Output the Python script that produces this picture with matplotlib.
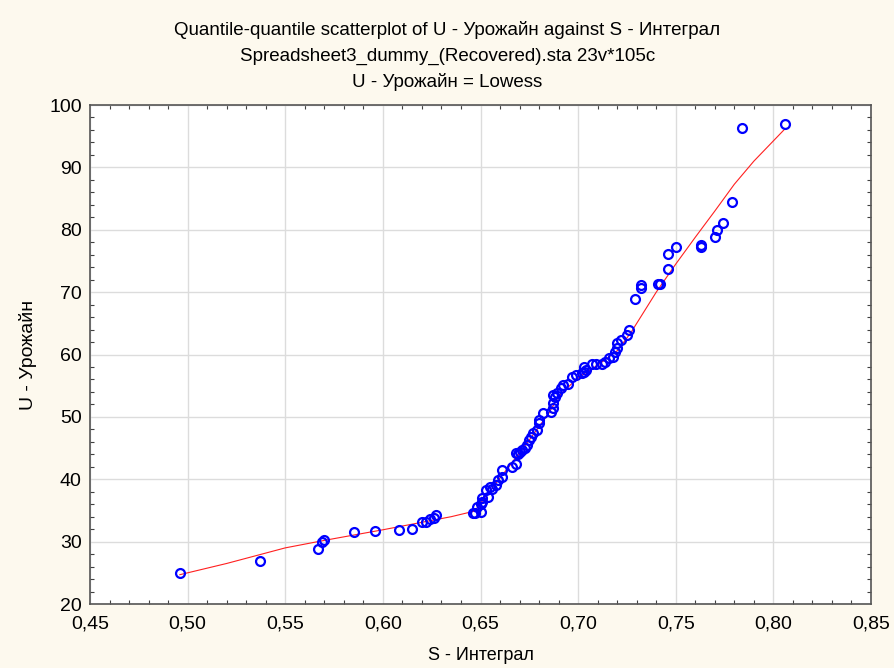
import matplotlib
matplotlib.use("Agg")
import matplotlib.pyplot as plt
import numpy as np
from matplotlib.ticker import MultipleLocator, FuncFormatter

plt.rcParams["font.family"] = ["Liberation Sans", "DejaVu Sans"]

# quantile pairs (S - Интеграл, U - Урожайн)
s_vals = [0.496, 0.537, 0.567, 0.569, 0.570, 0.585, 0.596, 0.608, 0.615,
          0.620, 0.622, 0.624, 0.626, 0.627, 0.646, 0.647, 0.648, 0.650,
          0.650, 0.651, 0.651, 0.653, 0.654, 0.655, 0.656, 0.658, 0.659,
          0.661, 0.661, 0.666, 0.668, 0.668, 0.669, 0.670, 0.671, 0.673,
          0.674, 0.675, 0.676, 0.677, 0.679, 0.680, 0.680, 0.682, 0.686,
          0.687, 0.687, 0.688, 0.687, 0.689, 0.691, 0.692, 0.695, 0.697,
          0.699, 0.702, 0.703, 0.704, 0.703, 0.707, 0.709, 0.712, 0.714,
          0.716, 0.718, 0.719, 0.720, 0.720, 0.722, 0.725, 0.726, 0.729,
          0.732, 0.732, 0.741, 0.742, 0.746, 0.746, 0.750, 0.763, 0.763,
          0.770, 0.771, 0.774, 0.779, 0.784, 0.806]
u_vals = [25.0, 26.9, 28.8, 30.0, 30.2, 31.5, 31.7, 31.9, 32.0,
          33.1, 33.2, 33.6, 33.8, 34.3, 34.6, 34.6, 35.6, 34.8,
          36.0, 36.4, 37.0, 38.3, 37.2, 38.8, 38.5, 39.1, 39.9,
          40.4, 41.5, 42.0, 42.4, 44.2, 44.0, 44.4, 44.7, 45.0,
          45.5, 46.3, 46.8, 47.4, 47.9, 49.0, 49.5, 50.6, 50.8,
          51.4, 52.2, 53.2, 53.5, 53.8, 54.6, 55.1, 55.3, 56.4,
          56.7, 57.0, 57.2, 57.5, 58.0, 58.5, 58.5, 58.5, 58.8,
          59.4, 59.6, 60.4, 61.0, 61.9, 62.3, 63.1, 63.9, 68.9,
          70.7, 71.1, 71.3, 71.3, 73.7, 76.1, 77.2, 77.5, 77.2,
          78.8, 80.0, 81.1, 84.5, 96.3, 97.0]

# Lowess curve
lowess_s = [0.496, 0.52, 0.55, 0.57, 0.60, 0.62, 0.635, 0.647, 0.655,
            0.665, 0.675, 0.685, 0.69, 0.70, 0.71, 0.72, 0.727, 0.74,
            0.75, 0.76, 0.77, 0.78, 0.79, 0.806]
lowess_u = [24.7, 26.5, 29.0, 30.2, 31.9, 33.1, 34.0, 34.9, 38.2,
            42.2, 46.3, 50.6, 53.3, 56.3, 58.3, 60.6, 63.5, 70.0,
            74.5, 78.8, 83.0, 87.3, 91.0, 96.2]

bg = "#fdf9ee"
fig = plt.figure(figsize=(8.95, 6.68), dpi=100, facecolor=bg)
ax = fig.add_axes([0.1006, 0.0958, 0.8726, 0.747])

ax.plot(lowess_s, lowess_u, color="#ff2020", lw=0.8, zorder=3)
ax.plot(s_vals, u_vals, linestyle="none", marker="o", ms=6.4,
        mfc="none", mec="#0000ff", mew=1.6, zorder=4)

ax.set_xlim(0.45, 0.85)
ax.set_ylim(20, 100)
ax.xaxis.set_major_locator(MultipleLocator(0.05))
ax.xaxis.set_minor_locator(MultipleLocator(0.01))
ax.yaxis.set_major_locator(MultipleLocator(10))
ax.yaxis.set_minor_locator(MultipleLocator(2))
ax.xaxis.set_major_formatter(FuncFormatter(lambda v, p: f"{v:.2f}".replace(".", ",")))
ax.yaxis.set_major_formatter(FuncFormatter(lambda v, p: f"{v:.0f}"))

ax.grid(True, which="major", color="#dcdcdc", lw=1.0, zorder=0)
ax.tick_params(which="both", direction="in", top=True, right=True,
               color="#404040", labelsize=14)
ax.tick_params(which="major", length=0, pad=8)
ax.tick_params(axis="y", which="major", pad=6)
ax.tick_params(which="minor", length=3, width=0.8)
for sp in ax.spines.values():
    sp.set_color("#555555")
    sp.set_linewidth(1.2)

ax.set_xlabel("S - Интеграл", fontsize=13, labelpad=11)
ax.set_ylabel("U - Урожайн", fontsize=14, labelpad=9)

fig.text(0.5, 0.955, "Quantile-quantile scatterplot of U - Урожайн against S - Интеграл",
         ha="center", va="center", fontsize=13.5)
fig.text(0.5, 0.916, "Spreadsheet3_dummy_(Recovered).sta 23v*105c",
         ha="center", va="center", fontsize=13.5)
fig.text(0.5, 0.877, "U - Урожайн = Lowess", ha="center", va="center", fontsize=13.5)

fig.savefig("out.png", dpi=100, facecolor=bg)
